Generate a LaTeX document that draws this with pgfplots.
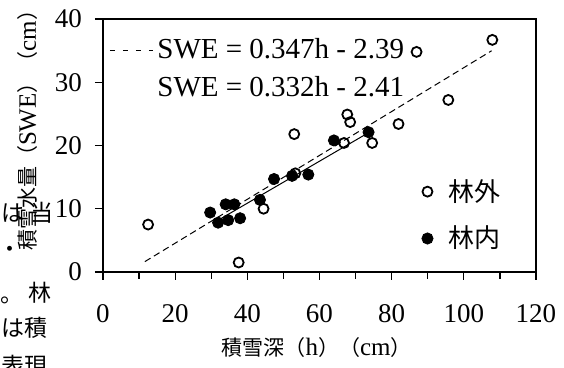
\documentclass[border=0pt]{standalone}
\usepackage{fontspec}
\setmainfont{Liberation Serif}
\newfontfamily\jp{Noto Sans CJK JP}
\usepackage{pgfplots}
\pgfplotsset{compat=1.18}
\newcommand{\lat}[1]{{\rmfamily\fontsize{12.5}{14}\selectfont #1}}
\begin{document}
\begin{tikzpicture}
\path[use as bounding box] (-51.5pt,-48pt) rectangle (230.5pt,136pt);
\begin{axis}[
  scale only axis, width=216.5pt, height=126.5pt,
  xmin=0, xmax=120, ymin=0, ymax=40,
  xtick={0,20,...,120}, minor xtick={10,30,...,110},
  ytick={0,10,...,40},
  tick align=outside, tick pos=left,
  major tick length=4pt, minor tick length=3.5pt,
  every tick/.style={black, line width=0.6pt},
  axis line style={line width=0.8pt},
  ticklabel style={font=\fontsize{13.5}{15}\selectfont},
  /pgf/number format/assume math mode=true,
  xticklabel style={yshift=-8.5pt},
  yticklabel style={xshift=-3pt},
  clip=false,
  legend style={at={(axis cs:86.6,9)}, anchor=west, draw=none, fill=none,
    font=\jp\fontsize{13}{15}\selectfont, row sep=7pt, column sep=5.5pt},
  legend cell align=left,
  legend image code/.code={\draw[mark repeat=2,mark phase=2,#1] plot coordinates {(0pt,0pt) (5pt,0pt) (10pt,0pt)};},
]
\addplot[black, line width=0.5pt, dash pattern=on 3.3pt off 2pt, forget plot] coordinates {(11.6,1.64) (107.7,34.98)};
\addplot[black, line width=0.5pt, forget plot] coordinates {(31.4,8.02) (73.6,22.03)};
\addplot[only marks, mark=o, mark size=2.5pt, line width=0.9pt, mark options={fill=white}] coordinates {
(12.5,7.5) (37.6,1.5) (44.5,10.0) (53.0,21.8) (53.3,15.6) (66.8,20.4) (67.7,24.9) (68.5,23.7) (74.6,20.4) (81.9,23.4) (86.9,34.8) (95.7,27.2) (107.9,36.7)};
\addlegendentry{林外}
\addplot[only marks, mark=*, mark size=2.8pt, black] coordinates {
(29.7,9.4) (31.9,7.8) (34.0,10.7) (34.7,8.2) (36.4,10.7) (38.0,8.5) (43.5,11.4) (47.4,14.7) (52.4,15.2) (56.9,15.4) (64.0,20.8) (73.6,22.1)};
\addlegendentry{林内}
% axis labels
\node[rotate=90, font=\jp\fontsize{10.5}{13}\selectfont] at (axis cs:-20.8,23.2) {積雪水量（\lat{SWE}）（\lat{cm}）};
\node[font=\jp\fontsize{10.5}{13}\selectfont] at (axis cs:59.2,-11.9) {積雪深（\lat{h}）（\lat{cm}）};
% stray text
\node[font=\jp\fontsize{11.5}{13}\selectfont, anchor=west, inner sep=0pt] at (axis cs:-28.2,9.3) {は};
\node[font=\jp\fontsize{11.5}{13}\selectfont, inner sep=0pt] at (axis cs:-17.0,9.4) {当};
\node[font=\jp\fontsize{11.5}{13}\selectfont, inner sep=0pt] at (axis cs:-25.8,3.1) {・};
\node[font=\jp\fontsize{11.5}{13}\selectfont, anchor=west, inner sep=0pt] at (axis cs:-28.6,-4.5) {。};
\node[font=\jp\fontsize{11.5}{13}\selectfont, inner sep=0pt] at (axis cs:-17.5,-3.2) {林};
\node[font=\jp\fontsize{11.5}{13}\selectfont, anchor=west, inner sep=0pt] at (axis cs:-28.3,-8.8) {は積};
\node[font=\jp\fontsize{11.5}{13}\selectfont, anchor=west, inner sep=0pt] at (axis cs:-28.3,-14.8) {表現};
\end{axis}
\begin{axis}[
  scale only axis, width=216.5pt, height=126.5pt,
  xmin=0, xmax=120, ymin=0, ymax=40,
  hide axis,
  legend style={at={(axis cs:0,32.1)}, anchor=west, draw=none, fill=none,
    font=\fontsize{14.5}{16}\selectfont, row sep=3pt},
  legend cell align=left,
  legend image code/.code={\draw[#1] (0pt,0pt) -- (21.5pt,0pt);},
]
\addlegendimage{black, line width=0.5pt, dash pattern=on 2.5pt off 4pt}
\addlegendentry{SWE = 0.347h - 2.39}
\addlegendimage{white}
\addlegendentry{SWE = 0.332h - 2.41}
\end{axis}
\end{tikzpicture}
\end{document}
